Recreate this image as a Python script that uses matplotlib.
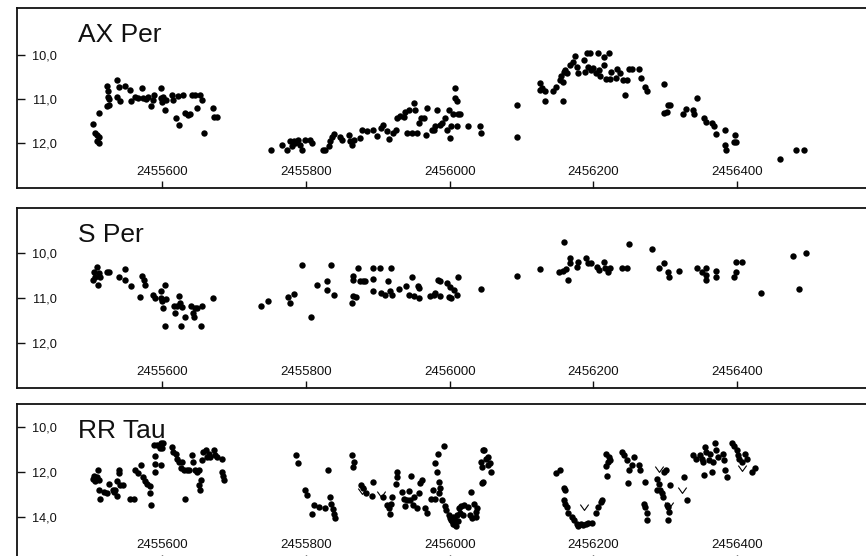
import numpy as np
import matplotlib.pyplot as plt
from matplotlib.path import Path

plt.rcParams['font.family'] = ['Liberation Sans', 'DejaVu Sans']

# Julian dates are stored as JD - 2455000
JD0 = 2455000

x_ticks = [2455600, 2455800, 2456000, 2456200, 2456400]
x_labels = ["2455600", "2455800", "2456000", "2456200", "2456400"]

# ---- AX Per -----------------------------------------------------------------
ax_per_day = [
    504, 507, 510, 513, 510, 512, 513, 523, 527, 524,
    525, 525, 527, 537, 540, 538, 541, 549, 556, 557,
    563, 566, 572, 574, 578, 581, 585, 587, 589, 598,
    599, 600, 602, 604, 606, 614, 616, 619, 622, 624,
    629, 632, 636, 639, 642, 646, 649, 653, 656, 659,
    671, 672, 676,
    752, 767, 774, 778, 781, 783, 785, 789, 792, 795,
    799, 806, 809, 824, 827, 832, 834, 836, 839, 848,
    851, 860, 862, 864, 867, 876, 878, 885, 894, 899,
    904, 908, 913, 915, 921, 926, 927, 931, 936, 938,
    941, 944, 948, 950, 952, 955, 958, 960, 965, 967,
    969, 976, 980,
    978, 983, 987, 990, 994, 996, 999, 1001, 1002, 1005,
    1007, 1008, 1010, 1010, 1011, 1015, 1026, 1042, 1044, 1093,
    1094, 1125, 1126, 1128, 1132, 1133, 1144, 1148, 1153, 1155,
    1157, 1158, 1159, 1161, 1163, 1168, 1171, 1175, 1177, 1178,
    1187, 1188, 1191, 1193, 1195, 1197, 1200, 1204, 1206, 1207,
    1209, 1214, 1215, 1218, 1221, 1223, 1225, 1232, 1233, 1237,
    1241, 1244, 1246, 1249, 1253, 1263, 1266, 1271, 1274, 1298,
    1298, 1303, 1306, 1302, 1325, 1329, 1339, 1340, 1344, 1353,
    1356, 1365, 1367, 1371, 1383, 1383, 1384, 1395, 1397, 1398,
    1460, 1481, 1493,
]
ax_per_mag = [
    11.57, 11.78, 11.82, 11.86, 11.97, 12.01, 11.33, 11.17, 11.14, 10.70,
    10.83, 10.96, 11.01, 10.58, 10.72, 10.96, 11.04, 10.70, 10.80, 11.04,
    10.95, 10.98, 10.76, 10.99, 11.01, 10.95, 11.17, 11.02, 10.91, 10.76,
    10.98, 11.08, 10.95, 11.25, 11.02, 10.91, 11.02, 11.44, 10.93, 11.59,
    10.91, 11.33, 11.36, 11.34, 10.91, 10.91, 11.21, 10.91, 11.02, 11.78,
    11.21, 11.42, 11.42,
    12.16, 12.06, 12.16, 11.97, 12.07, 11.95, 12.01, 11.93, 12.06, 12.16,
    11.93, 11.93, 12.01, 12.16, 12.16, 12.08, 11.97, 11.86, 11.80, 11.87,
    11.93, 11.82, 11.97, 12.05, 11.93, 11.89, 11.70, 11.73, 11.72, 11.84,
    11.67, 11.59, 11.73, 11.92, 11.78, 11.70, 11.44, 11.40, 11.42, 11.29,
    11.78, 11.25, 11.78, 11.10, 11.25, 11.78, 11.55, 11.44, 11.44, 11.82,
    11.21, 11.70, 11.63,
    11.70, 11.25, 11.59, 11.55, 11.44, 11.72, 11.25, 11.89, 11.63, 11.34,
    10.76, 10.98, 11.63, 11.06, 11.34, 11.34, 11.63, 11.63, 11.78, 11.14,
    11.88, 10.63, 10.80, 10.76, 11.04, 10.83, 10.83, 10.73, 10.57, 10.49,
    10.61, 11.06, 10.38, 10.34, 10.42, 10.23, 10.15, 10.02, 10.27, 10.42,
    10.11, 10.38, 9.95, 10.27, 9.95, 10.34, 10.30, 10.40, 9.95, 10.34,
    10.49, 10.05, 10.23, 10.55, 9.95, 10.55, 10.38, 10.53, 10.33, 10.40,
    10.57, 10.91, 10.57, 10.33, 10.33, 10.33, 10.53, 10.73, 10.81, 10.67,
    11.33, 11.14, 11.14, 11.29, 11.34, 11.23, 11.25, 11.34, 10.97, 11.44,
    11.52, 11.55, 11.63, 11.80, 11.72, 12.05, 12.16, 11.99, 11.82, 11.99,
    12.37, 12.16, 12.16,
]

# ---- S Per ------------------------------------------------------------------
s_per_day = [
    504, 505, 507, 510, 511, 513, 514, 524, 527, 540,
    548, 549, 557, 569, 572, 575, 577, 588, 591, 598,
    599, 600, 602, 604, 605, 604, 617, 618, 621, 624,
    625, 628, 627, 632, 641, 643, 644, 646, 649, 654,
    656, 671, 738, 748, 775, 778, 784, 795, 807, 816,
    829, 830, 835, 839, 864, 865, 865, 866, 870, 873,
    876, 880, 883, 893, 894, 894, 903, 904, 910, 914,
    917, 919, 920, 929, 940, 943, 948, 951, 956, 958,
    957, 973, 980, 984,
    978, 986, 987, 996, 999, 1001, 1002, 1006, 1010, 1012,
    1044, 1094, 1126, 1152, 1158, 1159, 1162, 1165, 1167, 1168,
    1177, 1178, 1189, 1192, 1197, 1205, 1207, 1214, 1216, 1220,
    1223, 1240, 1246, 1249, 1282, 1291, 1298, 1303, 1305, 1319,
    1344, 1351, 1356, 1356, 1357, 1370, 1371, 1396, 1398, 1398,
    1406, 1433, 1477, 1486, 1496,
]
s_per_mag = [
    10.59, 10.41, 10.53, 10.31, 10.70, 10.44, 10.52, 10.41, 10.41, 10.52,
    10.36, 10.59, 10.72, 10.96, 10.50, 10.59, 10.70, 10.93, 11.00, 10.83,
    11.00, 11.07, 11.22, 10.70, 11.02, 11.61, 11.17, 11.33, 11.17, 10.95,
    11.11, 11.19, 11.61, 11.41, 11.17, 11.33, 11.41, 11.22, 11.22, 11.61,
    11.17, 11.00, 11.17, 11.06, 10.96, 11.11, 10.90, 10.26, 11.42, 10.70,
    10.61, 10.81, 10.26, 10.93, 11.10, 10.95, 10.59, 10.50, 10.96, 10.33,
    10.61, 10.61, 10.61, 10.56, 10.33, 10.83, 10.33, 10.89, 10.93, 10.61,
    10.83, 10.33, 10.93, 10.80, 10.73, 10.93, 10.52, 10.95, 10.73, 10.78,
    11.00, 10.95, 10.89, 10.59,
    10.93, 10.61, 10.95, 10.65, 10.96, 10.74, 11.00, 10.81, 10.93, 10.53,
    10.79, 10.50, 10.34, 10.42, 10.39, 9.74, 10.36, 10.59, 10.11, 10.22,
    10.30, 10.19, 10.10, 10.21, 10.21, 10.31, 10.37, 10.19, 10.33, 10.41,
    10.33, 10.32, 10.32, 9.80, 9.90, 10.32, 10.22, 10.41, 10.52, 10.39,
    10.32, 10.41, 10.32, 10.59, 10.48, 10.39, 10.52, 10.52, 10.41, 10.19,
    10.19, 10.89, 10.05, 10.79, 10.00,
]

# ---- RR Tau -----------------------------------------------------------------
rr_tau_day = [
    504, 506, 507, 510, 511, 512, 513, 514, 519, 523,
    527, 532, 533, 535, 538, 538, 540, 540, 542, 546,
    556, 561, 563, 566, 571, 574, 576, 579, 583, 584,
    585, 590, 590, 591, 589, 593, 598, 600, 597, 601,
    599, 614, 616, 619, 621, 624, 626, 628, 630, 632,
    635, 637, 642, 643, 646, 649, 651, 652, 653, 654,
    656, 657, 661, 663, 665, 667, 673, 674, 676, 683,
    684, 685, 686,
    787, 789, 799, 801, 809, 812, 818, 826, 831, 834,
    835, 838, 839, 840,
    864, 867, 866, 877, 880, 894, 892, 920, 918, 915,
    917, 927, 927, 926, 934, 936, 941, 938, 943, 946,
    945, 949, 951, 954, 957, 959, 962, 966, 969, 974,
    977, 979, 980, 982, 984, 992, 985, 987, 985, 989,
    993, 995, 999, 1002, 1005, 1008, 1010, 1013, 1014, 1026,
    1028, 1030, 1034, 1036, 1038, 1046, 1045, 1047, 1051, 1054,
    1057, 884, 907, 913,
    1003, 1006, 1004, 1007, 1001, 1016, 1020, 1031, 1036, 1044,
    1048, 1053, 1056, 1045, 1018, 1012, 1009,
    1148, 1154, 1159, 1160, 1159, 1161, 1163, 1165, 1170, 1173,
    1177, 1179, 1182, 1185, 1189, 1192, 1198, 1203, 1206, 1210,
    1212, 1218, 1221, 1220, 1218, 1219, 1223, 1240, 1242, 1247,
    1249, 1248, 1254, 1256, 1263, 1265, 1272, 1270, 1272, 1274,
    1274, 1288, 1291, 1289, 1293, 1295, 1298, 1301, 1297, 1307,
    1303, 1305, 1303, 1302, 1326, 1330, 1339, 1343, 1348, 1351,
    1352, 1353, 1355, 1357, 1360, 1362, 1365, 1366, 1369, 1371,
    1373, 1380, 1381, 1383, 1385, 1393, 1396, 1399, 1401, 1403,
    1406, 1411, 1414, 1420, 1425,
]
rr_tau_mag = [
    12.34, 12.19, 12.40, 12.25, 11.90, 12.37, 12.79, 13.19, 12.89, 12.96,
    12.55, 12.81, 12.89, 12.79, 12.40, 13.08, 11.90, 12.07, 12.59, 12.59,
    13.23, 13.19, 11.90, 12.04, 11.70, 12.25, 12.40, 12.52, 12.64, 12.93,
    13.48, 12.00, 11.66, 11.30, 10.81, 10.81, 10.74, 10.92, 10.96, 10.71,
    11.70, 10.89, 11.11, 11.19, 11.41, 11.56, 11.85, 11.56, 11.93, 13.19,
    11.93, 11.93, 11.26, 11.56, 11.93, 12.00, 11.93, 12.59, 12.81, 12.37,
    11.48, 11.11, 11.01, 11.33, 11.19, 11.33, 11.01, 11.26, 11.33, 11.41,
    12.00, 12.19, 12.37,
    11.26, 11.60, 12.79, 13.04, 13.88, 13.48, 13.56, 13.59, 11.90, 13.11,
    13.41, 13.67, 13.88, 14.07,
    11.26, 11.56, 11.78, 12.59, 12.74, 12.44, 13.08, 13.11, 13.44, 13.63,
    13.88, 12.00, 12.25, 12.55, 12.89, 13.19, 13.26, 13.53, 12.84, 12.19,
    13.26, 13.48, 13.11, 13.63, 12.96, 12.49, 12.37, 13.59, 13.85, 13.19,
    12.81, 13.23, 11.60, 12.00, 11.19, 10.84, 12.44, 12.70, 12.96, 13.26,
    13.53, 13.70, 13.93, 14.15, 14.33, 14.15, 13.93, 13.63, 13.85, 13.56,
    13.93, 12.89, 13.44, 13.78, 13.59, 12.44, 11.78, 11.04, 11.41, 11.70,
    12.00, 12.96, 13.11, 13.48,
    14.20, 14.30, 14.00, 14.22, 14.05, 13.53, 13.48, 14.07, 14.00, 11.56,
    11.01, 11.33, 11.60, 12.49, 13.90, 14.20, 14.40,
    12.07, 11.93, 12.74, 12.81, 13.26, 13.41, 13.56, 13.85, 14.00, 14.15,
    14.30, 14.41, 14.30, 14.37, 14.30, 14.27, 14.27, 13.85, 13.56, 13.33,
    13.26, 11.19, 11.33, 11.56, 11.75, 12.19, 11.48, 11.11, 11.26, 11.48,
    11.93, 12.49, 11.70, 11.33, 11.70, 11.93, 12.44, 13.41, 13.56, 13.85,
    14.15, 12.30, 12.52, 12.81, 12.81, 12.96, 12.00, 11.90, 13.11, 12.59,
    13.56, 13.78, 14.15, 13.48, 12.25, 13.26, 11.26, 11.41, 11.26, 11.41,
    11.56, 12.15, 10.89, 11.11, 11.48, 11.19, 12.00, 11.56, 10.74, 11.04,
    11.33, 11.19, 11.48, 11.93, 12.25, 10.74, 10.86, 11.04, 11.26, 11.41,
    11.56, 11.19, 11.41, 12.00, 11.85,
]

# fainter-than limits (drawn as open "v")
rr_tau_lim_day = [878, 905, 1187, 1291, 1305, 1323, 1406]
rr_tau_lim_mag = [12.84, 12.97, 13.55, 11.88, 13.48, 12.81, 11.85]

# ---- figure -----------------------------------------------------------------
W, H = 866, 556
fig = plt.figure(figsize=(W / 100, H / 100), dpi=100)

left = 16.7 / W
width = 863 / W


def make_panel(top_px, height_px, ylim, yticks, ylabels, title):
    ax = fig.add_axes([left, (H - top_px - height_px) / H, width, height_px / H])
    ax.set_xlim(2455398, 2456598)
    ax.set_ylim(*ylim)
    ax.set_xticks(x_ticks)
    ax.set_xticklabels(x_labels)
    ax.set_yticks(yticks)
    ax.set_yticklabels(ylabels)
    ax.tick_params(axis='x', direction='in', length=4.7, width=1.0,
                   pad=-16.3, labelsize=9.5, colors='#111111')
    ax.tick_params(axis='y', direction='in', length=5.5, width=1.0,
                   pad=-28.8, labelsize=9.2, colors='#111111')
    for s in ax.spines.values():
        s.set_linewidth(1.3)
        s.set_color('#111111')
    ax.text(0.071, 1 - 33.4 / height_px, title, transform=ax.transAxes,
            fontsize=19, va='baseline', ha='left', color='#111111')
    return ax


ax1 = make_panel(8.3, 180, (13.04, 8.935), [10, 11, 12], ["10,0", "11,0", "12,0"], "AX Per")
ax2 = make_panel(208.3, 180, (13.0, 9.0), [10, 11, 12], ["10,0", "11,0", "12,0"], "S Per")
ax3 = make_panel(404.3, 157.5, (16.0, 9.0), [10, 12, 14], ["10,0", "12,0", "14,0"], "RR Tau")

dot = dict(linestyle='none', marker='o', markersize=4.6, color='black', markeredgewidth=0)

ax1.plot(JD0 + np.array(ax_per_day), ax_per_mag, **dot)
ax2.plot(JD0 + np.array(s_per_day), s_per_mag, **dot)
ax3.plot(JD0 + np.array(rr_tau_day), rr_tau_mag, **dot)

vee = Path([(-1, 0.7), (0, -0.7), (1, 0.7)], [Path.MOVETO, Path.LINETO, Path.LINETO])
ax3.plot(JD0 + np.array(rr_tau_lim_day), rr_tau_lim_mag, linestyle='none',
         marker=vee, markersize=6, markerfacecolor='none',
         markeredgecolor='black', markeredgewidth=0.8)

fig.savefig("out.png", dpi=100)
